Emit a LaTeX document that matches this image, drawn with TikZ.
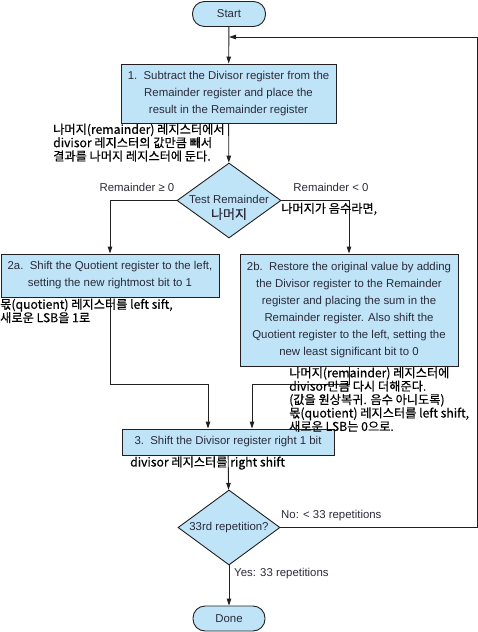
\documentclass[tikz,border=0pt]{standalone}
\usepackage{fontspec}
\setmainfont{Liberation Sans}
\newfontfamily\kr[FakeBold=0.4]{Noto Sans CJK KR}
\usetikzlibrary{shapes.geometric,arrows.meta}
\definecolor{boxfill}{HTML}{BFE4F7}
\definecolor{ink}{HTML}{231F20}
\definecolor{etext}{HTML}{2A2A3A}
\tikzset{
  proc/.style={draw=ink, line width=0.9pt, fill=boxfill, rectangle, inner sep=0pt, align=center, text=etext, font=\fontsize{11.4}{17}\selectfont},
  term/.style={draw=ink, line width=0.9pt, fill=boxfill, rectangle, rounded corners=12pt, inner sep=0pt, minimum width=73pt, minimum height=25pt, text=etext, font=\fontsize{11.4}{13}\selectfont},
  decide/.style={draw=ink, line width=0.9pt, fill=boxfill, diamond, inner sep=0pt},
  conn/.style={draw=ink, line width=0.9pt, -{Triangle[length=7pt,width=4.5pt]}},
  elabel/.style={inner sep=0pt, text=etext, font=\fontsize{11.4}{13}\selectfont},
  klabel/.style={inner sep=0pt, align=left, text=black, font=\kr\fontsize{12.2}{13.4}\selectfont},
}
\begin{document}
\begin{tikzpicture}[x=1pt,y=-1pt]
\useasboundingbox (0,0) rectangle (478,632);
\node[term] (start) at (229,14) {Start};
\node[proc, minimum width=215pt, minimum height=59pt] (b1) at (228.5,93.5)
  {1.\ \ Subtract the Divisor register from the\\Remainder register and place the\\result in the Remainder register};
\node[decide, minimum width=104pt, minimum height=75pt,
  label={[align=center, yshift=-7pt, text=etext, font=\fontsize{11.4}{15.5}\selectfont]center:Test Remainder\\{\kr\fontsize{13}{15.5}\selectfont 나머지}}] (d1) at (229,200.5) {};
\node[proc, minimum width=218pt, minimum height=43pt] (b2a) at (110,275.5)
  {2a.\ \ Shift the Quotient register to the left,\\setting the new rightmost bit to 1};
\node[proc, minimum width=218pt, minimum height=112pt] (b2b) at (349,310)
  {2b.\ \ Restore the original value by adding\\the Divisor register to the Remainder\\register and placing the sum in the\\Remainder register. Also shift the\\Quotient register to the left, setting the\\new least significant bit to 0};
\node[proc, minimum width=212pt, minimum height=26pt] (b3) at (228,442)
  {3.\ \ Shift the Divisor register right 1 bit};
\node[decide, minimum width=102pt, minimum height=75pt,
  label={[text=etext, font=\fontsize{11.4}{13}\selectfont]center:33rd repetition?}] (d2) at (229,527.5) {};
\node[term, minimum width=72pt] (done) at (229,618.5) {Done};

\coordinate (loopR) at (477,37);
\coordinate (loopend) at (229,37);

\draw[conn] (start) -- (b1);
\draw[conn] (b1) -- (d1);
\draw[conn] (d1.west) -| (b2a.north);
\draw[conn] (d1.east) -| (b2b.north);
\draw[conn] (b2a.south) -- ++(0,87) -| ([xshift=-20pt]b3.north);
\draw[conn] (b2b.south) -- ++(0,18) -| ([xshift=24pt]b3.north);
\draw[conn] (b3) -- (d2);
\draw[conn] (d2.east) -| (loopR) -- (loopend);
\draw[conn] (d2) -- (done);

\node[elabel] (lge) at (137,187) {Remainder ≥ 0};
\node[elabel] (llt) at (331,187) {Remainder < 0};
\node[elabel, anchor=west] (lno) at (281,516) {No: < 33 repetitions};
\node[elabel, anchor=west] (lyes) at (234,574) {Yes: 33 repetitions};

\node[klabel, anchor=north west] (k1) at (53,123.5) {나머지(remainder) 레지스터에서\\divisor 레지스터의 값만큼 빼서\\결과를 나머지 레지스터에 둔다.};
\node[klabel, anchor=west] (kneg) at (281,209) {나머지가 음수라면,};
\node[klabel, anchor=north west] (k2a) at (0,298.5) {몫(quotient) 레지스터를 left sift,\\새로운 LSB을 1로};
\node[klabel, anchor=north west] (k2b) at (289,367) {나머지(remainder) 레지스터에\\divisor만큼 다시 더해준다.\\(값을 원상복귀. 음수 아니도록)\\몫(quotient) 레지스터를 left shift,\\새로운 LSB는 0으로.};
\node[klabel, anchor=west] (k3) at (130,463) {divisor 레지스터를 right shift};
\end{tikzpicture}
\end{document}
